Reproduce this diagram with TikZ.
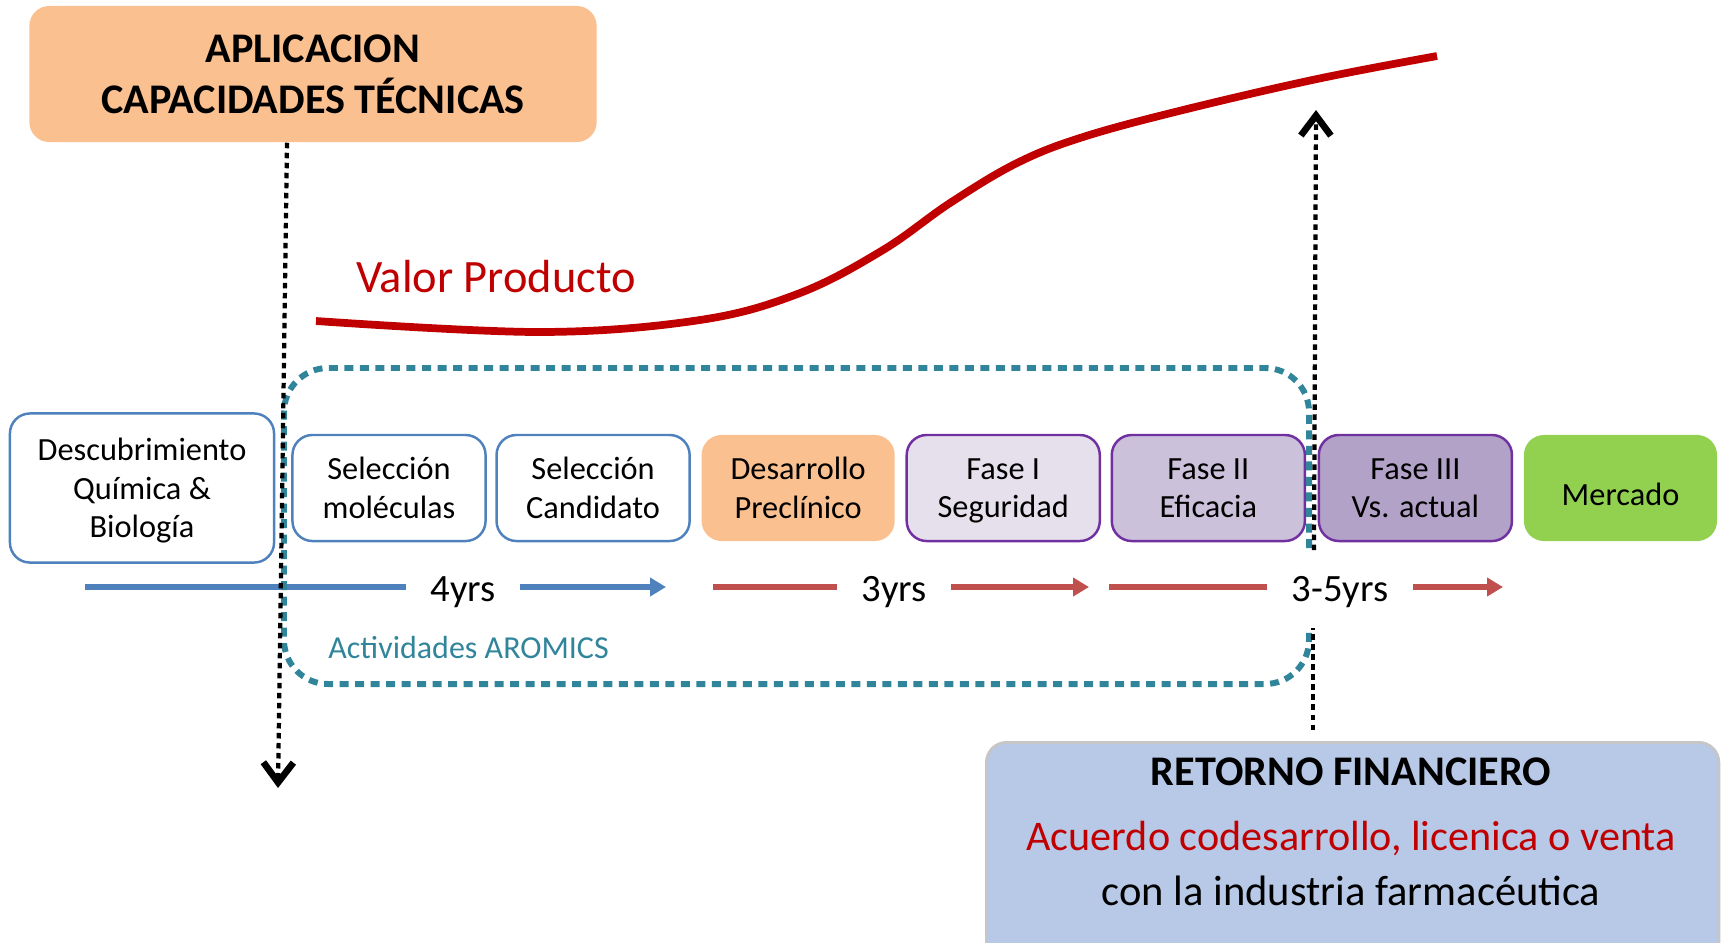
\documentclass[tikz,border=0pt]{standalone}
\usepackage{fontspec}
\setmainfont{Carlito}
\usetikzlibrary{positioning, arrows.meta}

\definecolor{stageblue}{RGB}{79,129,189}
\definecolor{timered}{RGB}{192,80,77}
\definecolor{peach}{RGB}{250,192,144}
\definecolor{lavone}{RGB}{230,224,236}
\definecolor{lavtwo}{RGB}{204,193,218}
\definecolor{lavthree}{RGB}{179,162,199}
\definecolor{lavborder}{RGB}{112,48,160}
\definecolor{marketgreen}{RGB}{146,208,80}
\definecolor{valuered}{RGB}{192,0,0}
\definecolor{aromteal}{RGB}{49,133,155}
\definecolor{retblue}{RGB}{183,201,231}

\begin{document}
\begin{tikzpicture}[x=0.01cm, y=-0.01cm,
            stage/.style={draw=stageblue, line width=0.7pt, fill=white, rounded corners=0.2cm,
                minimum width=1.93cm, minimum height=1.06cm, inner sep=0pt, align=center,
                font=\fontsize{9.2}{11}\selectfont, text depth=0pt},
            fase/.style={stage, draw=lavborder},
            timeline/.style={line width=1.6pt},
            tip/.style={-{Triangle[length=0.16cm,width=0.18cm]}},
            years/.style={font=\fontsize{11}{13}\selectfont, inner xsep=0.24cm, inner ysep=0pt},
            dotline/.style={line width=1.2pt, dash pattern=on 0.055cm off 0.045cm},
            dotarrow/.style={dotline, -{Straight Barb[length=0.2cm,width=0.3cm,line width=1.9pt]}}]
        \clip (0,0) rectangle (1725,942);

        % stages
        \node[stage, minimum width=2.64cm, minimum height=1.49cm] (desc) at (142,488) {Descubrimiento\\Química \&\\Biología};
        \node[stage] (selMol) at (389,488) {Selección\\moléculas};
        \node[stage, right=0.085cm of selMol] (selCand) {Selección\\Candidato};
        \node[stage, draw=none, fill=peach, right=0.095cm of selCand] (desarr) {Desarrollo\\Preclínico};
        \node[fase, fill=lavone, right=0.095cm of desarr] (faseI) {Fase I\\Seguridad};
        \node[fase, fill=lavtwo, right=0.095cm of faseI] (faseII) {Fase II\\Eficacia};
        \node[fase, fill=lavthree, right=0.115cm of faseII] (faseIII) {Fase III\\Vs. actual};
        \node[stage, draw=none, fill=marketgreen, text height=10pt, right=0.095cm of faseIII] (merc) {Mercado};

        \node[fill=peach, rounded corners=0.2cm, minimum width=5.67cm, minimum height=1.36cm, align=center,
            font=\bfseries\fontsize{12}{14.5}\selectfont] (aplic) at (313,74) {APLICACION\\CAPACIDADES TÉCNICAS};

        % product value
        \draw[valuered, line width=2.2pt] plot[smooth, tension=0.6] coordinates {(316,321) (540,332) (700,320)
            (800,293) (883,250) (950,203) (1017,163) (1083,137) (1183,110) (1317,79) (1437,56)};
        \node[text=valuered, font=\fontsize{13.2}{16}\selectfont] (valor) at (496,277) {Valor Producto};

        % time spans
        \coordinate (blueStart) at (85,587);
        \coordinate (blueEnd) at (666,587);
        \node[years] (yrsA) at (463,592) {4yrs};
        \draw[timeline, stageblue] (blueStart) -- (yrsA.west |- blueStart);
        \draw[timeline, stageblue, tip] (yrsA.east |- blueStart) -- (blueEnd);

        \coordinate (redStart) at (713,587);
        \coordinate (redEnd) at (1089,587);
        \node[years] (yrsB) at (894,592) {3yrs};
        \draw[timeline, timered] (redStart) -- (yrsB.west |- redStart);
        \draw[timeline, timered, tip] (yrsB.east |- redStart) -- (redEnd);

        \coordinate (lateStart) at (1109,587);
        \coordinate (lateEnd) at (1503,587);
        \node[years] (yrsC) at (1340,592) {3-5yrs};
        \draw[timeline, timered] (lateStart) -- (yrsC.west |- lateStart);
        \draw[timeline, timered, tip] (yrsC.east |- lateStart) -- (lateEnd);

        % aromics frame
        \draw[aromteal, line width=1.7pt, dash pattern=on 0.09cm off 0.065cm, rounded corners=0.44cm]
            (1309,548) -- (1309,368) -- (284,368) -- (284,684) -- (1309,684) -- (1309,627);
        \node[text=aromteal, font=\fontsize{9.1}{11}\selectfont, anchor=west] (aromics) at (316,647) {Actividades AROMICS};

        % financial return
        \node[fill=retblue, draw=gray!45, line width=0.8pt, rounded corners=0.2cm, minimum width=7.32cm,
            minimum height=2.4cm, anchor=north west] (retorno) at (985,741) {};
        \node[font=\bfseries\fontsize{12}{14}\selectfont] (retTitle) at (1351,772) {RETORNO FINANCIERO};
        \node[text=valuered, font=\fontsize{12}{15}\selectfont] (retDeal) at (1351,839) {Acuerdo codesarrollo, licenica o venta};
        \node[font=\fontsize{12.1}{15}\selectfont] (retPharma) at (1351,891) {con la industria farmacéutica};

        \coordinate (capTop) at (287,0);
        \coordinate (capEnd) at (278,788);
        \draw[dotarrow] (aplic.south -| capTop) -- (capEnd);
        \coordinate (gapLow) at (1313,628);
        \coordinate (gapHigh) at (1314,550);
        \coordinate (retEnd) at (1316,110);
        \draw[dotline, shorten <=0.11cm] (retorno.north -| gapLow) -- (gapLow);
        \draw[dotarrow] (gapHigh) -- (retEnd);
    \end{tikzpicture}
\end{document}
